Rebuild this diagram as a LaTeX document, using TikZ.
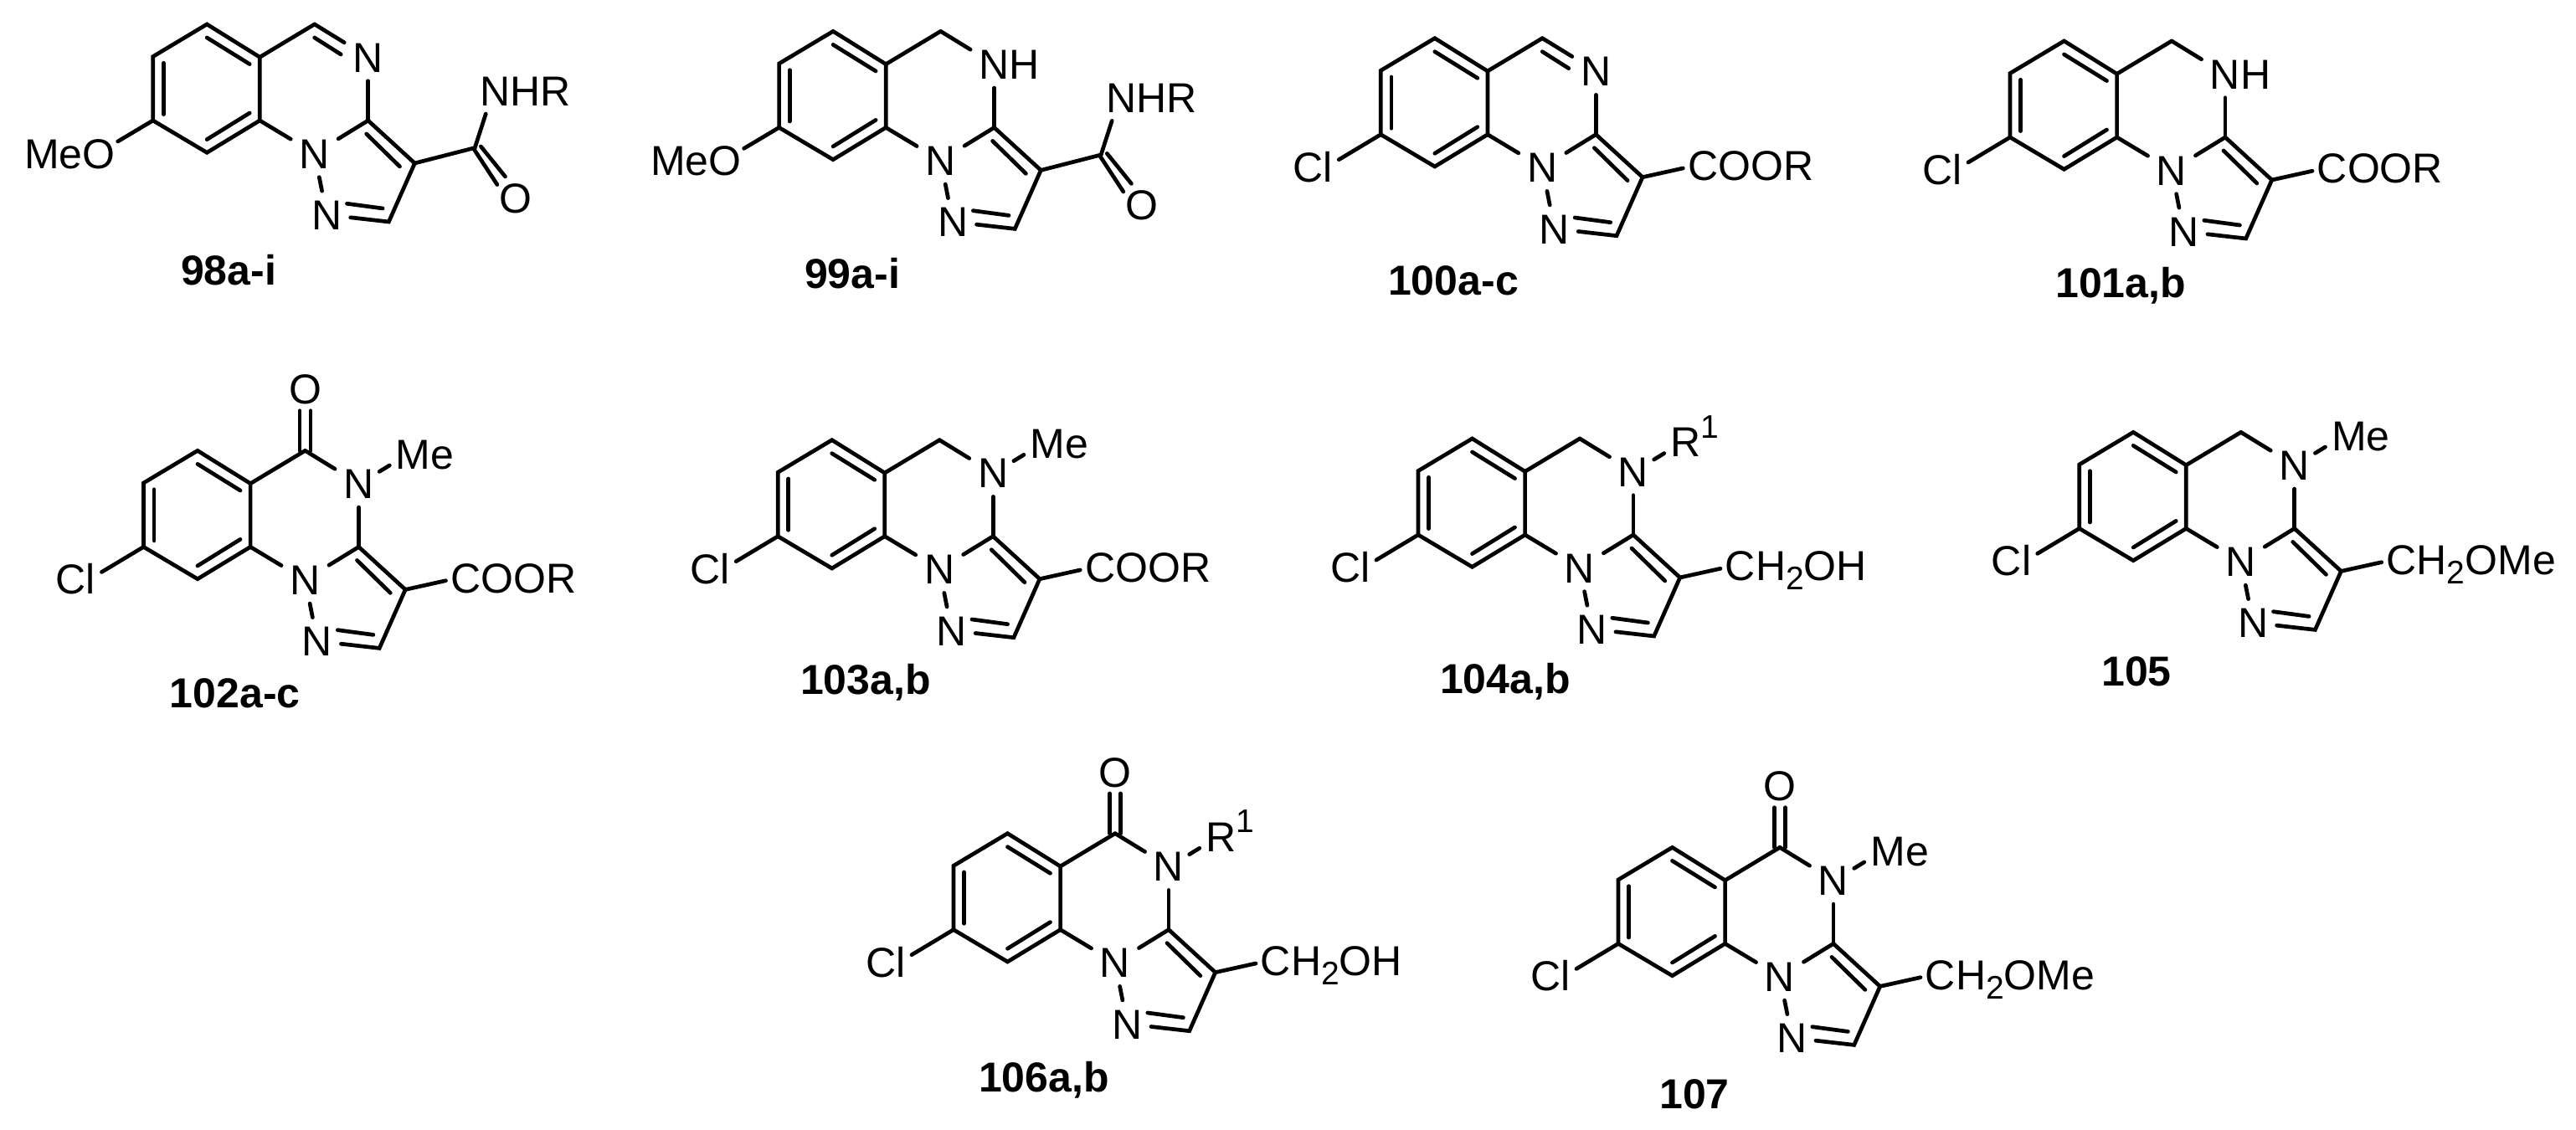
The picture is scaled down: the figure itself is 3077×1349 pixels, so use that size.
\documentclass[tikz,border=0pt]{standalone}
\usepackage{fontspec}
\setmainfont{Liberation Sans}
\newcommand\smalldigit[1]{{\fontsize{19.5}{20}\selectfont #1}}
\newcommand\subtwo{\raisebox{-5.5pt}{\smalldigit{2}}}
\newcommand\supone{\raisebox{11.3pt}{\smalldigit{1}}}
\tikzset{
  bond/.style={line width=2.35pt,line cap=round,line join=miter,black},
  atom/.style={font=\fontsize{25}{28}\selectfont,inner sep=5pt,text height=18pt,text depth=0pt,anchor=center},
  grp/.style={font=\fontsize{25}{28}\selectfont,inner sep=0pt,text height=18pt,text depth=0pt,anchor=west},
  cmpd/.style={font=\fontsize{25}{28}\selectfont\bfseries,inner sep=0pt,text height=18pt,text depth=0pt,anchor=center}
}
% common skeleton, origin at N1
\newcommand\skel{
  \coordinate (a) at (-128.5,154.3);
  \coordinate (b) at (-193,115.7);
  \coordinate (c) at (-193,39.3);
  \coordinate (d) at (-128.5,1);
  \coordinate (e) at (-65.4,39.3);
  \coordinate (f) at (-65.4,115);
  \coordinate (g) at (0,154.3);
  \coordinate (i) at (64,39.3);
  \coordinate (j) at (119.7,-11.7);
  \coordinate (k) at (88.7,-81.7);
  \node[atom] (N1) at (0,0) {N};
  \node[atom] (N2) at (14.5,-73.3) {N};
  \draw[bond] (a)--(b)--(c)--(d)--(e)--(f)--cycle;
  \draw[bond] (f)--(g);
  \draw[bond] (e)--(N1);
  \draw[bond] (N1)--(i);
  \draw[bond] (N1)--(N2);
  \draw[bond] (i)--(j)--(k)--(N2);
  \draw[bond] ([shift={(0,-16)}]a)--([shift={(-12.1,-8.3)}]f);
  \draw[bond] ([shift={(0,15.7)}]d)--([shift={(-12.1,9)}]e);
  \draw[bond] ([shift={(12.6,-7.7)}]b)--([shift={(12.6,7.4)}]c);
  \draw[bond] ([shift={(-2,-16)}]i)--([shift={(-17.9,-4)}]j);
  \draw[bond] ([shift={(24.3,13.3)}]N2.center)--([shift={(-7.3,16)}]k);
}
\newcommand\placeNfour[1]{
  \node[atom] (N4) at (64,115) {#1};
  \draw[bond] (N4)--(i);
}
\newcommand\topN{
  \placeNfour{N}
  \draw[bond] (g)--(N4);
  \draw[bond] ([shift={(0,-16)}]g)--([shift={(-32.5,3.3)}]N4.center);
}
\newcommand\topNH{
  \placeNfour{N\rlap{H}}
  \draw[bond] (g)--(N4);
}
\newcommand\carbonyl{
  \node[atom] (Ok) at (0,227.7) {O};
  \draw[bond] ([shift={(-6.6,0)}]g)--([shift={(-6.6,-25.7)}]Ok.center);
  \draw[bond] ([shift={(6.6,0)}]g)--([shift={(6.6,-25.7)}]Ok.center);
}
\newcommand\rOnN[1]{% #1 = text, on the N4 atom
  \node[grp] (Rn) at (108,150.5) {#1};
  \draw[bond] ([shift={(24.7,14.3)}]N4.center)--([shift={(-7.2,-13.8)}]Rn.west);
}
\newcommand\subCl{
  \node[grp] (Cl) at (-298.2,0.7) {Cl};
  \draw[bond] (c)--([shift={(55.2,8.6)}]Cl.west);
}
\newcommand\subMeO{
  \node[grp] (MeO) at (-347,0) {MeO};
  \draw[bond] (c)--([shift={(112,14.3)}]MeO.west);
}
\newcommand\subAmide{
  \coordinate (cam) at (191.5,6.7);
  \node[atom] (Oa) at (240,-53.3) {O};
  \node[grp] (NHR) at (197.2,75) {NHR};
  \draw[bond] (j)--(cam);
  \draw[bond] (cam)--([shift={(7.4,-27.7)}]NHR.west);
  \draw[bond] ([shift={(-1,-1.7)}]cam)--([shift={(-21.8,16)}]Oa.center);
  \draw[bond] ([shift={(7.2,1.6)}]cam)--([shift={(-12.2,25.6)}]Oa.center);
}
\newcommand\subRight[1]{
  \node[grp] (Sub) at (173.5,2.5) {#1};
  \draw[bond] (j)--([shift={(-5.5,-3.5)}]Sub.west);
}
\newcommand\mol[4]{%
  \begin{scope}[shift={(#2,1349-#3)},name prefix=#1-]
    \skel
    #4
  \end{scope}
}
\begin{document}
\begin{tikzpicture}[x=0.5pt,y=0.5pt]
\useasboundingbox (0,0) rectangle (3077,1349);
\mol{m98}{375.7}{183.3}{\topN\subMeO\subAmide}
\mol{m99}{1123.6}{191.7}{\topNH\subMeO\subAmide}
\mol{m100}{1842.3}{200}{\topN\subCl\subRight{COOR}}
\mol{m101}{2594}{203.3}{\topNH\subCl\subRight{COOR}}
\mol{m102}{364.5}{692.7}{\placeNfour{N}\draw[bond] (g)--(N4);\carbonyl\rOnN{Me}\subCl\subRight{COOR}}
\mol{m103}{1122.2}{680}{\placeNfour{N}\draw[bond] (g)--(N4);\rOnN{Me}\subCl\subRight{COOR}}
\mol{m104}{1887}{678.3}{\placeNfour{N}\draw[bond] (g)--(N4);\rOnN{R\supone}\subCl\subRight{CH\subtwo OH}}
\mol{m105}{2676.7}{670.7}{\placeNfour{N}\draw[bond] (g)--(N4);\rOnN{Me}\subCl\subRight{CH\subtwo OMe}}
\mol{m106}{1332}{1150}{\placeNfour{N}\draw[bond] (g)--(N4);\carbonyl\rOnN{R\supone}\subCl\subRight{CH\subtwo OH}}
\mol{m107}{2126}{1166.7}{\placeNfour{N}\draw[bond] (g)--(N4);\carbonyl\rOnN{Me}\subCl\subRight{CH\subtwo OMe}}
\node[cmpd] (l98) at (273,1349-323) {98a-i};
\node[cmpd] (l99) at (1018,1349-327) {99a-i};
\node[cmpd] (l100) at (1736,1349-335) {100a-c};
\node[cmpd] (l101) at (2533,1349-338) {101a,b};
\node[cmpd] (l102) at (280.7,1349-828) {102a-c};
\node[cmpd] (l103) at (1034,1349-812) {103a,b};
\node[cmpd] (l104) at (1798,1349-811) {104a,b};
\node[cmpd] (l105) at (2552,1349-802) {105};
\node[cmpd] (l106) at (1247,1349-1286) {106a,b};
\node[cmpd] (l107) at (2024,1349-1306) {107};
\end{tikzpicture}
\end{document}
